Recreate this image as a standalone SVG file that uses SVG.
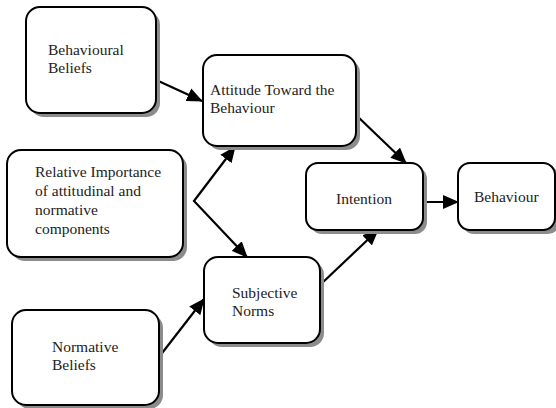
<svg xmlns="http://www.w3.org/2000/svg" width="556" height="408" viewBox="0 0 556 408">
<style>
.box{fill:#fff;stroke:#000;stroke-width:2}
.sh{fill:#8c8c8c;stroke:none}
.t{font-family:'Liberation Serif','Times New Roman',Times,serif;font-size:15.5px;fill:#222}
.c{stroke:#000;stroke-width:2.2;fill:none}
</style>
<defs>
<marker id="ah" markerUnits="userSpaceOnUse" markerWidth="16" markerHeight="14" refX="15" refY="7" orient="auto-start-reverse">
<path d="M0,0 L16,7 L0,14 Z" fill="#000"/>
</marker>
</defs>
<g id="connectors">
<line class="c" x1="154" y1="79" x2="202" y2="101" marker-end="url(#ah)"/>
<polyline class="c" points="235,147 194,201 247,257" marker-start="url(#ah)" marker-end="url(#ah)"/>
<line class="c" x1="159" y1="357" x2="204" y2="299" marker-end="url(#ah)"/>
<line class="c" x1="356" y1="115" x2="406" y2="163" marker-end="url(#ah)"/>
<line class="c" x1="320" y1="285" x2="378" y2="230" marker-end="url(#ah)"/>
<line class="c" x1="423" y1="202" x2="458" y2="202" marker-end="url(#ah)"/>
</g>
<g id="behavioural-beliefs">
<rect class="sh" x="30" y="11" width="130" height="106" rx="14" fill="#8c8c8c"/>
<rect class="box" x="26" y="7" width="130" height="106" rx="14"/>
<text class="t" font-family="Liberation Serif, serif" x="48" y="55">Behavioural</text>
<text class="t" font-family="Liberation Serif, serif" x="48" y="73">Beliefs</text>
</g>
<g id="attitude">
<rect class="sh" x="207" y="59" width="153" height="91" rx="14" fill="#8c8c8c"/>
<rect class="box" x="203" y="55" width="153" height="91" rx="14"/>
<text class="t" font-family="Liberation Serif, serif" x="210" y="95">Attitude Toward the</text>
<text class="t" font-family="Liberation Serif, serif" x="210" y="113">Behaviour</text>
</g>
<g id="relative-importance">
<rect class="sh" x="11" y="154" width="176" height="107" rx="14" fill="#8c8c8c"/>
<rect class="box" x="7" y="150" width="176" height="107" rx="14"/>
<text class="t" font-family="Liberation Serif, serif" x="35" y="177">Relative Importance</text>
<text class="t" font-family="Liberation Serif, serif" x="35" y="196">of attitudinal and</text>
<text class="t" font-family="Liberation Serif, serif" x="35" y="215">normative</text>
<text class="t" font-family="Liberation Serif, serif" x="35" y="234">components</text>
</g>
<g id="intention">
<rect class="sh" x="310" y="167" width="117" height="67" rx="12" fill="#8c8c8c"/>
<rect class="box" x="306" y="163" width="117" height="67" rx="12"/>
<text class="t" font-family="Liberation Serif, serif" x="336" y="204">Intention</text>
</g>
<g id="behaviour">
<rect class="sh" x="462" y="167" width="98" height="67" rx="12" fill="#8c8c8c"/>
<rect class="box" x="458" y="163" width="97" height="67" rx="12"/>
<text class="t" font-family="Liberation Serif, serif" x="474" y="202">Behaviour</text>
</g>
<g id="subjective-norms">
<rect class="sh" x="208" y="261" width="116" height="86" rx="14" fill="#8c8c8c"/>
<rect class="box" x="204" y="257" width="116" height="86" rx="14"/>
<text class="t" font-family="Liberation Serif, serif" x="232" y="298">Subjective</text>
<text class="t" font-family="Liberation Serif, serif" x="232" y="316">Norms</text>
</g>
<g id="normative-beliefs">
<rect class="sh" x="16" y="314" width="147" height="95" rx="14" fill="#8c8c8c"/>
<rect class="box" x="12" y="310" width="147" height="95" rx="14"/>
<text class="t" font-family="Liberation Serif, serif" x="52" y="352">Normative</text>
<text class="t" font-family="Liberation Serif, serif" x="52" y="370">Beliefs</text>
</g>
</svg>
